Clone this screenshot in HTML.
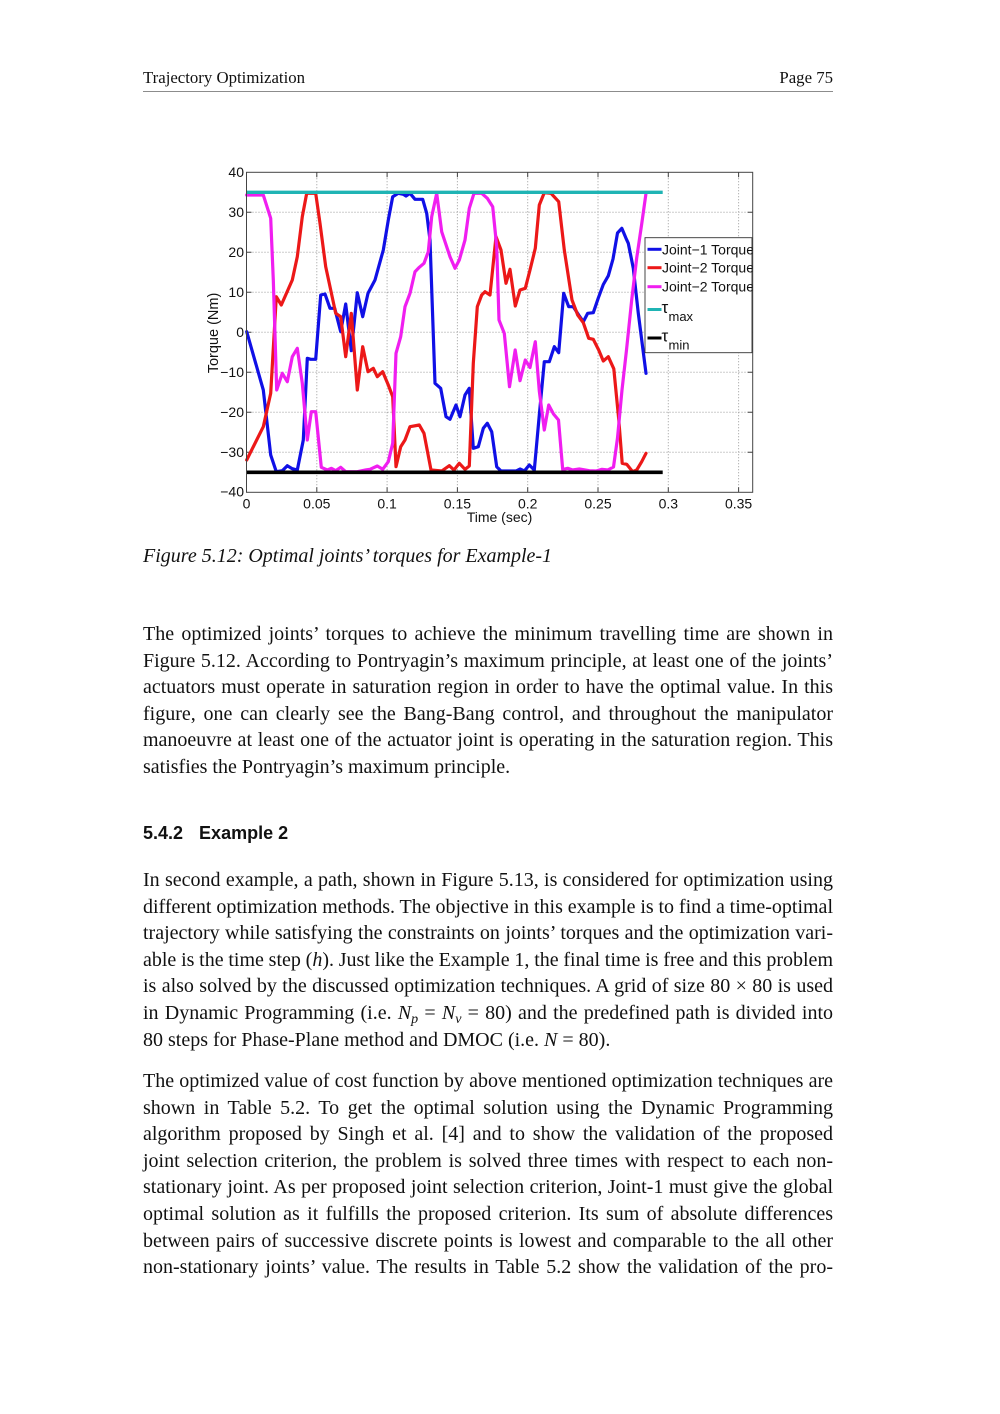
<!DOCTYPE html>
<html><head><meta charset="utf-8">
<style>
html,body{margin:0;padding:0;background:#fff;}
body{width:1000px;height:1414px;position:relative;overflow:hidden;}
.hdr{position:absolute;top:68px;font:16.8px "Liberation Serif",serif;line-height:20px;color:#111;}
.rule{position:absolute;left:143px;top:90.5px;width:690px;height:0;border-top:1.3px solid #8c8c8c;}
.cap{position:absolute;left:143px;top:543px;font:italic 20px "Liberation Serif",serif;line-height:26.6px;color:#111;white-space:nowrap;}
.p{position:absolute;left:143px;width:690px;font:20px "Liberation Serif",serif;line-height:26.6px;color:#111;}
.p div{height:26.6px;text-align:justify;text-align-last:justify;word-spacing:-1.5px;}
.p div.l{text-align:left;text-align-last:left;word-spacing:0;}
.p sub{font-size:14px;line-height:0;vertical-align:-4px;}
.h{position:absolute;left:143px;top:823.5px;font:bold 18px "Liberation Sans",sans-serif;line-height:18px;color:#111;white-space:nowrap;}
svg{position:absolute;left:0;top:0;}
</style></head><body>

<div class="hdr" style="left:143px;">Trajectory Optimization</div>
<div class="hdr" style="right:167px;">Page 75</div>
<div class="rule"></div>

<svg width="1000" height="540" viewBox="0 0 1000 540" xmlns="http://www.w3.org/2000/svg">
<defs>
<clipPath id="cl"><rect x="0" y="0" width="752.5" height="540"/></clipPath>
</defs>
<!-- grid -->
<g stroke="#9a9a9a" stroke-width="1" stroke-dasharray="1,2" fill="none">
<line x1="316.8" y1="172.3" x2="316.8" y2="492.3"/>
<line x1="387.1" y1="172.3" x2="387.1" y2="492.3"/>
<line x1="457.4" y1="172.3" x2="457.4" y2="492.3"/>
<line x1="527.7" y1="172.3" x2="527.7" y2="492.3"/>
<line x1="598" y1="172.3" x2="598" y2="492.3"/>
<line x1="668.3" y1="172.3" x2="668.3" y2="492.3"/>
<line x1="738.6" y1="172.3" x2="738.6" y2="492.3"/>
<line x1="246.5" y1="212.3" x2="752.7" y2="212.3"/>
<line x1="246.5" y1="252.3" x2="752.7" y2="252.3"/>
<line x1="246.5" y1="292.3" x2="752.7" y2="292.3"/>
<line x1="246.5" y1="332.3" x2="752.7" y2="332.3"/>
<line x1="246.5" y1="372.3" x2="752.7" y2="372.3"/>
<line x1="246.5" y1="412.3" x2="752.7" y2="412.3"/>
<line x1="246.5" y1="452.3" x2="752.7" y2="452.3"/>
</g>
<!-- ticks -->
<g stroke="#444" stroke-width="1">
<path d="M316.8 492.3v-5M387.1 492.3v-5M457.4 492.3v-5M527.7 492.3v-5M598 492.3v-5M668.3 492.3v-5M738.6 492.3v-5
M316.8 172.3v5M387.1 172.3v5M457.4 172.3v5M527.7 172.3v5M598 172.3v5M668.3 172.3v5M738.6 172.3v5
M246.5 212.3h5M246.5 252.3h5M246.5 292.3h5M246.5 332.3h5M246.5 372.3h5M246.5 412.3h5M246.5 452.3h5
M752.7 212.3h-5M752.7 252.3h-5M752.7 292.3h-5M752.7 332.3h-5M752.7 372.3h-5M752.7 412.3h-5M752.7 452.3h-5"/>
</g>
<!-- data -->
<g fill="none" stroke-width="3.2" stroke-linejoin="round" stroke-linecap="round">
<polyline stroke="#1010e6" points="246.7,331.7 263.3,390 270.7,455 276.3,471.7 282.3,470.7 287.3,465.7 292.3,468.7 297.3,470 303.3,440 307.3,358.3 310.7,359.3 315.7,359.3 320.7,295 325,294 330,308.3 334.7,308.3 340.7,331.7 345.7,304 351.3,350.7 357.3,292.7 362.7,316.7 368,293.3 375,280 383.3,250 388.3,220 392.7,196.7 398.3,193.3 403.3,194.3 406,196 410,193.3 415,199.3 422.7,199.3 426.7,213.3 430,240 435,383.3 440.7,388.3 446,416.7 450,419.3 456,405 460,416.7 465,395 469.3,388.3 473.3,448.3 478.3,446.7 483.3,428.3 487.3,423.3 491.7,431.7 496.7,466.7 501,471 516,471 520,469 524.3,471 529.3,465 534.3,470 539.3,415 544.3,361.7 549.3,361.7 554.3,346.7 558.7,352.7 563.7,293.3 568.7,306.7 573.3,306.7 578.7,315 583.3,321.7 587.7,313.3 593.3,312.7 598.3,298 603.3,284.5 608.3,275.8 613,259 617.5,233 621.8,228.3 626,238.3 628.3,243.3 633.3,268.3 638.3,313.3 646,373.3"/>
<polyline stroke="#ec1818" points="246.7,460 263.3,426.7 270.7,393.3 276.3,296.7 281.3,305 285.7,295 292.3,280 297.3,256.7 302.3,216.7 306.7,193.3 315.7,193.3 320,223.3 325.7,266.7 330,286.7 335.7,313.3 340.7,316.7 345.7,356.7 351.3,313.3 357.3,390 362.7,346.7 368,371.7 373.3,368.3 377.3,376.7 382.7,371.7 388.3,385 392.7,396.7 396,466.7 400.7,446.7 405,440 410,426.7 419.3,425 424,433.3 431,470 441.7,471 449.3,465.7 454,470 459.3,463.3 465,469.3 469.3,466 473.3,363.3 477.3,306.7 481.7,295 485,291.7 490,295 496,236.7 501,250 506,283.3 510,269.3 515.3,306 520,290 525.3,288.3 530,270 535.3,248.3 539.3,205 544.3,192.7 551,193.3 558.7,201.7 564.3,250 572,300 577.7,315 583.3,322.7 588.7,338.3 593.3,339.3 598.7,350 603.3,361 608.3,356.7 613.8,368.8 618.8,420 622.2,463.3 626.7,464.3 632.7,471.7 636.7,470 641.7,461.7 646,453.3"/>
<polyline stroke="#f01ef0" points="246.7,195 263.3,195 270.7,218.3 273.3,280 276.7,390 282.3,373.3 287.3,381.7 292.3,356.7 297.3,348.3 302.3,383.3 307.3,440 311.3,411.7 315.7,411.7 321.3,467.3 327.3,470 331.3,468.3 335.7,470.7 340.7,467.3 345.7,471.7 357.3,471.7 365.7,470 370,469.3 377.3,466 382.7,469.3 388.3,461.7 392.7,443.3 396,353.3 400.7,336.7 405,306.7 410,293.3 415,271.7 419.3,267.3 424,263.3 428.3,251.7 431.7,216.7 436.7,193.3 441.7,231.7 450,256.7 455,268.3 459.3,260 465,240 469.3,208.3 474,193.3 481.7,193.3 487.3,198.3 492.7,206.7 496.7,246.7 499,320 504.3,333.3 509.5,386.7 515.2,350 520,380.7 525.3,360 530,367.5 535.3,341.7 539.3,391 544.3,430 548.7,405 553.5,414 558.5,420 562.7,469.5 567.7,468.3 572.7,470 579.3,469 589.3,470.7 596,471 602,469.3 607.7,470 613.5,467 617.5,438 622,390 626.5,350 631.7,300 636.7,258 641.7,224 646,193.3"/>
</g>
<line x1="246.5" y1="192.3" x2="662.7" y2="192.3" stroke="#1fb4b4" stroke-width="3.3"/>
<line x1="246.5" y1="472.3" x2="662.7" y2="472.3" stroke="#000" stroke-width="3.6"/>
<!-- axes box -->
<rect x="246.5" y="172.3" width="506.2" height="320" fill="none" stroke="#444" stroke-width="1"/>
<!-- tick labels -->
<g font-family="Liberation Sans, sans-serif" font-size="14" fill="#111">
<g text-anchor="end">
<text x="244" y="177.2">40</text>
<text x="244" y="217.2">30</text>
<text x="244" y="257.2">20</text>
<text x="244" y="297.2">10</text>
<text x="244" y="337.2">0</text>
<text x="244" y="377.2">−10</text>
<text x="244" y="417.2">−20</text>
<text x="244" y="457.2">−30</text>
<text x="244" y="496.7">−40</text>
</g>
<g text-anchor="middle">
<text x="246.5" y="508.5">0</text>
<text x="316.8" y="508.5">0.05</text>
<text x="387.1" y="508.5">0.1</text>
<text x="457.4" y="508.5">0.15</text>
<text x="527.7" y="508.5">0.2</text>
<text x="598" y="508.5">0.25</text>
<text x="668.3" y="508.5">0.3</text>
<text x="738.6" y="508.5">0.35</text>
<text x="499.5" y="521.8" font-size="14">Time (sec)</text>
<text transform="translate(218,333) rotate(-90)" font-size="14.5">Torque (Nm)</text>
</g>
</g>
<!-- legend -->
<g clip-path="url(#cl)">
<rect x="645" y="237.7" width="107" height="115" fill="#fff" stroke="#333" stroke-width="0.9"/>
<g stroke-width="3">
<line x1="647.5" y1="249.3" x2="661.5" y2="249.3" stroke="#1010e6"/>
<line x1="647.5" y1="267.7" x2="661.5" y2="267.7" stroke="#ec1818"/>
<line x1="647.5" y1="286.7" x2="661.5" y2="286.7" stroke="#f01ef0"/>
<line x1="647.5" y1="309.5" x2="661.5" y2="309.5" stroke="#1fb4b4"/>
<line x1="647.5" y1="338" x2="661.5" y2="338" stroke="#000"/>
</g>
<g font-family="Liberation Sans, sans-serif" font-size="14" fill="#111">
<text x="662" y="254.3">Joint−1 Torque</text>
<text x="662" y="272.7">Joint−2 Torque</text>
<text x="662" y="291.7">Joint−2 Torque</text>
<text x="661.5" y="313" font-size="17">τ</text>
<text x="668.5" y="321" font-size="13">max</text>
<text x="661.5" y="341.5" font-size="17">τ</text>
<text x="668.5" y="349.3" font-size="13">min</text>
</g>
</g>
</svg>

<div class="cap">Figure 5.12: Optimal joints’ torques for Example-1</div>

<div class="p" style="top:621px;">
<div>The optimized joints’ torques to achieve the minimum travelling time are shown in</div>
<div>Figure 5.12. According to Pontryagin’s maximum principle, at least one of the joints’</div>
<div>actuators must operate in saturation region in order to have the optimal value. In this</div>
<div>figure, one can clearly see the Bang-Bang control, and throughout the manipulator</div>
<div>manoeuvre at least one of the actuator joint is operating in the saturation region. This</div>
<div class="l">satisfies the Pontryagin’s maximum principle.</div>
</div>

<div class="h">5.4.2<span style="display:inline-block;width:16px;"></span>Example 2</div>

<div class="p" style="top:867px;">
<div>In second example, a path, shown in Figure 5.13, is considered for optimization using</div>
<div>different optimization methods. The objective in this example is to find a time-optimal</div>
<div>trajectory while satisfying the constraints on joints’ torques and the optimization vari-</div>
<div>able is the time step (<i>h</i>). Just like the Example 1, the final time is free and this problem</div>
<div>is also solved by the discussed optimization techniques. A grid of size 80 × 80 is used</div>
<div>in Dynamic Programming (i.e. <i>N<sub>p</sub></i> = <i>N<sub>v</sub></i> = 80) and the predefined path is divided into</div>
<div class="l">80 steps for Phase-Plane method and DMOC (i.e. <i>N</i> = 80).</div>
</div>

<div class="p" style="top:1068px;">
<div>The optimized value of cost function by above mentioned optimization techniques are</div>
<div>shown in Table 5.2. To get the optimal solution using the Dynamic Programming</div>
<div>algorithm proposed by Singh et al. [4] and to show the validation of the proposed</div>
<div>joint selection criterion, the problem is solved three times with respect to each non-</div>
<div>stationary joint. As per proposed joint selection criterion, Joint-1 must give the global</div>
<div>optimal solution as it fulfills the proposed criterion. Its sum of absolute differences</div>
<div>between pairs of successive discrete points is lowest and comparable to the all other</div>
<div>non-stationary joints’ value. The results in Table 5.2 show the validation of the pro-</div>
</div>

</body></html>
